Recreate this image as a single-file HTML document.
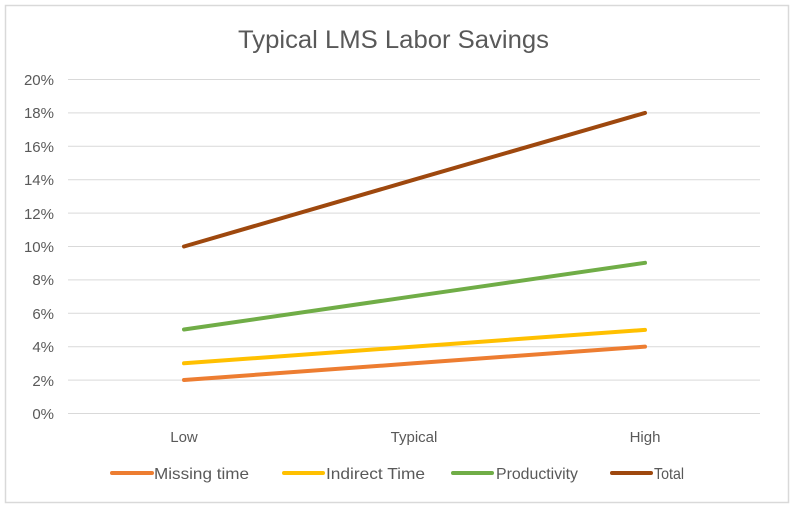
<!DOCTYPE html>
<html><head><meta charset="utf-8"><style>
html,body{margin:0;padding:0;background:#fff;}
svg{display:block;font-family:"Liberation Sans",sans-serif;}
</style></head><body>
<svg width="794" height="508" viewBox="0 0 794 508">
<rect x="5.5" y="5.5" width="783" height="497" fill="#fff" stroke="#d9d9d9" stroke-width="1.5"/>
<text x="238" y="48" font-size="25" fill="#595959" textLength="311" lengthAdjust="spacingAndGlyphs">Typical LMS Labor Savings</text>
<g stroke="#d9d9d9" stroke-width="1">
<line x1="68" x2="760" y1="79.5" y2="79.5"/>
<line x1="68" x2="760" y1="112.9" y2="112.9"/>
<line x1="68" x2="760" y1="146.3" y2="146.3"/>
<line x1="68" x2="760" y1="179.7" y2="179.7"/>
<line x1="68" x2="760" y1="213.1" y2="213.1"/>
<line x1="68" x2="760" y1="246.5" y2="246.5"/>
<line x1="68" x2="760" y1="279.9" y2="279.9"/>
<line x1="68" x2="760" y1="313.3" y2="313.3"/>
<line x1="68" x2="760" y1="346.7" y2="346.7"/>
<line x1="68" x2="760" y1="380.1" y2="380.1"/>
<line x1="68" x2="760" y1="413.5" y2="413.5"/>
</g>
<g font-size="15" fill="#595959" text-anchor="end">
<text x="54" y="85">20%</text><text x="54" y="118">18%</text><text x="54" y="152">16%</text>
<text x="54" y="185">14%</text><text x="54" y="219">12%</text><text x="54" y="252">10%</text>
<text x="54" y="285">8%</text><text x="54" y="319">6%</text><text x="54" y="352">4%</text>
<text x="54" y="386">2%</text><text x="54" y="419">0%</text>
</g>
<g font-size="15" fill="#595959" text-anchor="middle">
<text x="184" y="442">Low</text><text x="414" y="442">Typical</text><text x="645" y="442">High</text>
</g>
<g fill="none" stroke-width="4" stroke-linecap="round">
<polyline points="184,380 414,363.3 645,346.6" stroke="#ED7D31"/>
<polyline points="184,363.3 414,346.6 645,329.9" stroke="#FFC000"/>
<polyline points="184,329.5 414,296.2 645,262.8" stroke="#70AD47"/>
<polyline points="184,246.5 414,179.7 645,112.9" stroke="#9E480E"/>
</g>
<g stroke-width="4" stroke-linecap="round">
<line x1="112" x2="152" y1="473" y2="473" stroke="#ED7D31"/>
<line x1="284" x2="323" y1="473" y2="473" stroke="#FFC000"/>
<line x1="453" x2="492" y1="473" y2="473" stroke="#70AD47"/>
<line x1="612" x2="651" y1="473" y2="473" stroke="#9E480E"/>
</g>
<g font-size="16" fill="#595959">
<text x="154" y="479" textLength="95" lengthAdjust="spacingAndGlyphs">Missing time</text>
<text x="326" y="479" textLength="99" lengthAdjust="spacingAndGlyphs">Indirect Time</text>
<text x="496" y="479" textLength="82" lengthAdjust="spacingAndGlyphs">Productivity</text>
<text x="654" y="479" textLength="30" lengthAdjust="spacingAndGlyphs">Total</text>
</g>
</svg>
</body></html>
